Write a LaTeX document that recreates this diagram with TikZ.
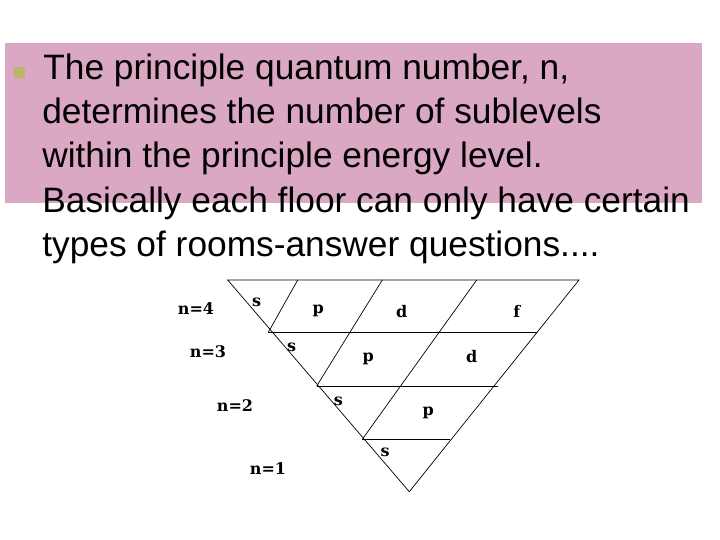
\documentclass[tikz,border=0pt]{standalone}
\usepackage{fontspec}
\setmainfont{Liberation Sans}
\newfontfamily\labelfont{DejaVu Serif}
\definecolor{slidepink}{HTML}{DBA8C3}
\definecolor{bulletolive}{HTML}{BDB66A}
\tikzset{
  textline/.style={anchor=base west, inner sep=0pt, font=\fontsize{35.3}{40}\selectfont},
  lbl/.style={inner sep=0pt, font=\labelfont\bfseries\fontsize{16}{19}\selectfont}
}

\begin{document}
\begin{tikzpicture}[x=1pt, y=-1pt, line width=0.7pt]
	\useasboundingbox (0,0) rectangle (720,540);
	\fill [slidepink] (5,43) rectangle (702,203);
	\fill [bulletolive] (14,67) rectangle (25,78);
	
	\node [textline] (line1) at (43,80) {The principle quantum number, n,};
	\node [textline] (line2) at (42,124) {determines the number of sublevels};
	\node [textline] (line3) at (42,168) {within the principle energy level.};
	\node [textline] (line4) at (42,212) {Basically each floor can only have certain};
	\node [textline] (line5) at (42,256) {types of rooms-answer questions....};
	
	% triangle
	\coordinate (topL) at (227.7,280);
	\coordinate (topR) at (579,280);
	\coordinate (apex) at (409.3,491.7);
	\coordinate (left3) at (268.3,332.3);
	\coordinate (left2) at (316.7,386);
	\coordinate (left1) at (362.3,439.3);
	\coordinate (right3) at (536.7,332.3);
	\coordinate (right2) at (498.3,386);
	\coordinate (right1) at (450,439.3);
	\coordinate (topA) at (297.7,280);
	\coordinate (topB) at (382.3,280);
	\coordinate (topC) at (476.7,280);
	
	\draw (topL) -- (topR) -- (apex) -- cycle;
	\draw (left3) -- (right3);
	\draw (left2) -- (right2);
	\draw (left1) -- (right1);
	\draw (topA) -- (left3);
	\draw (topB) -- (left2);
	\draw (topC) -- (left1);
	
	\node [lbl] (n4) at (196,309) {n=4};
	\node [lbl] (n3) at (208,352) {n=3};
	\node [lbl] (n2) at (235,406) {n=2};
	\node [lbl] (n1) at (268,469) {n=1};
	
	\node [lbl] (s4) at (256.7,302) {s};
	\node [lbl] (p4) at (318.3,311) {p};
	\node [lbl] (d4) at (401.7,312) {d};
	\node [lbl] (f4) at (516.7,311) {f};
	\node [lbl] (s3) at (291.7,347) {s};
	\node [lbl] (p3) at (368.3,359) {p};
	\node [lbl] (d3) at (471.7,357) {d};
	\node [lbl] (s2) at (338.3,401) {s};
	\node [lbl] (p2) at (428.3,413) {p};
	\node [lbl] (s1) at (385,452) {s};
\end{tikzpicture}
\end{document}
